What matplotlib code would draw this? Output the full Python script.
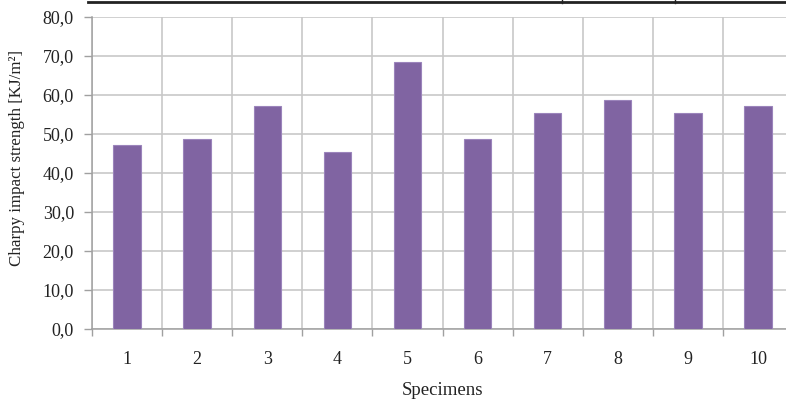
import matplotlib
matplotlib.use('Agg')
import matplotlib.pyplot as plt
from matplotlib.lines import Line2D
from matplotlib.ticker import FuncFormatter, MultipleLocator

specimens = ['1', '2', '3', '4', '5', '6', '7', '8', '9', '10']
impact_strength = [47.3, 48.8, 57.1, 45.5, 68.4, 48.8, 55.4, 58.7, 55.4, 57.1]

plt.rcParams['font.family'] = ['Liberation Serif', 'DejaVu Serif']

W, H = 786, 404
fig = plt.figure(figsize=(W / 100, H / 100), dpi=100)
ax = fig.add_axes([92 / W, 75 / H, 701 / W, 312 / H])

xs = range(len(specimens))
ax.bar(xs, impact_strength, width=0.39, color='#8064A2', edgecolor='#9b84bb',
       linewidth=0.8, zorder=3)

ax.set_xlim(-0.5, len(specimens) - 0.5)
ax.set_ylim(0, 80)
ax.yaxis.set_major_locator(MultipleLocator(10))
ax.yaxis.set_major_formatter(FuncFormatter(lambda v, p: f'{v:.1f}'.replace('.', ',')))

# category labels in the middle, ticks on the boundaries
ax.set_xticks(list(xs))
ax.set_xticklabels(specimens)
ax.set_xticks([i - 0.5 for i in range(len(specimens) + 1)], minor=True)
ax.tick_params(axis='x', which='major', length=0, pad=16, labelsize=13, colors='#222222')
ax.tick_params(axis='x', which='minor', length=5, color='#a0a0a0', width=1)
ax.tick_params(axis='y', length=6, color='#a0a0a0', width=1, labelsize=13,
               labelcolor='#222222', pad=7)

ax.grid(True, which='minor', axis='x', color='#c8c8c8', linewidth=1.2, zorder=0)
ax.grid(True, which='major', axis='y', color='#c8c8c8', linewidth=1.2, zorder=0)

for s in ['top', 'right']:
    ax.spines[s].set_visible(False)
for s in ['left', 'bottom']:
    ax.spines[s].set_color('#a0a0a0')
    ax.spines[s].set_linewidth(1.1)

ax.set_xlabel('Specimens', fontsize=13.5, color='#222222', labelpad=10)
ax.set_ylabel('Charpy impact strength [KJ/m²]', fontsize=12.2, color='#222222')
ax.yaxis.set_label_coords(-0.095, 0.548)

# edge of the cropped box above the chart
fig.add_artist(Line2D([88 / W, 1], [1 - 2 / H, 1 - 2 / H], color='#222222', linewidth=2))
for xp in [562, 675]:
    fig.add_artist(Line2D([xp / W, xp / W], [1 - 3 / H, 1], color='#222222', linewidth=1))

fig.savefig('out.png', dpi=100)
